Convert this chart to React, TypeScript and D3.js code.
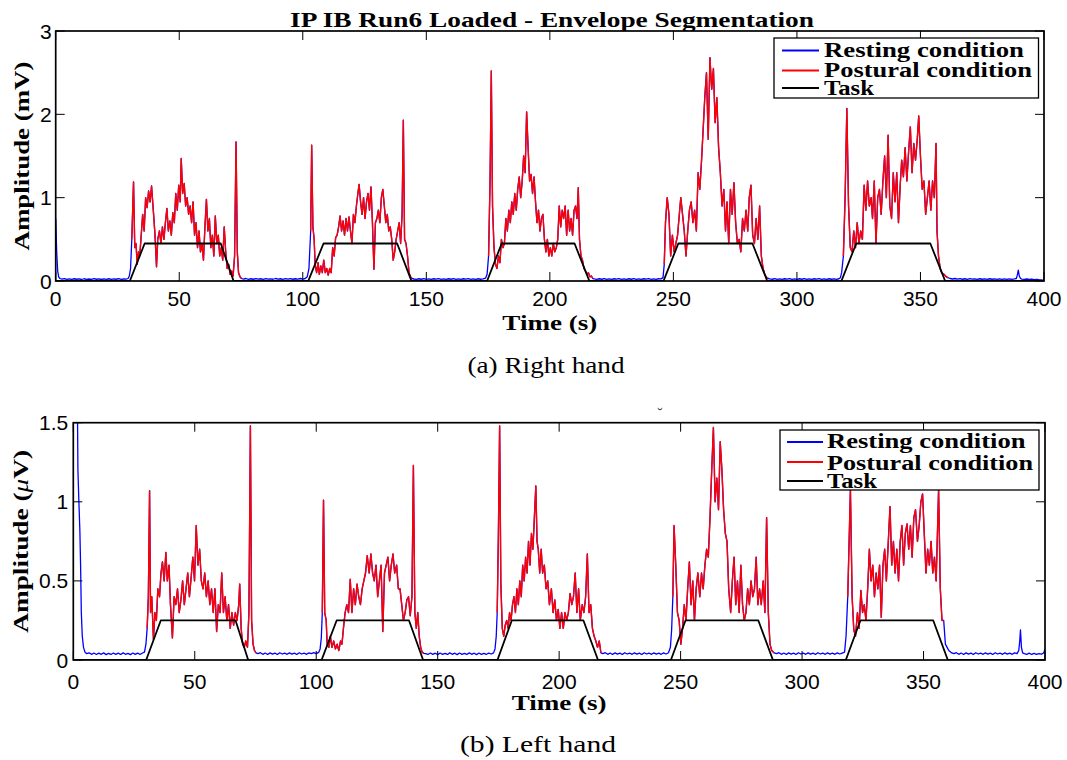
import React from "react";
import * as d3 from "d3";

// ---------------- DATA ----------------
const xTicks = [0, 50, 100, 150, 200, 250, 300, 350, 400];
const rightYTicks = [0, 1, 2, 3];
const leftYTicks = [0, 0.5, 1, 1.5];

const titleText = "IP IB Run6 Loaded - Envelope Segmentation";
const legendLabels = ["Resting condition", "Postural condition", "Task"];

// task trapezoid: breakpoints (s) and on/off state
const taskTimes = [0, 30, 36, 66.8, 72, 102.2, 108.4, 138.2, 144, 174.6, 180.5, 210, 216, 246, 252, 282, 288, 318, 324, 354, 360, 400];
const taskOnOff = [0, 0, 1, 1, 0, 0, 1, 1, 0, 0, 1, 1, 0, 0, 1, 1, 0, 0, 1, 1, 0, 0];
const rightTaskLevel = 0.45;
const leftTaskLevel = 0.25;

// postural condition windows (s)
const rightPosturalWindows: [number, number][] = [[30.5, 75.2], [103, 144.2], [175.2, 217.4], [246.3, 288.4], [318.5, 361.1]];
const leftPosturalWindows: [number, number][] = [[30.4, 75.2], [102.5, 144.3], [174.5, 217.2], [246.8, 288.5], [318.6, 358.3]];

// right hand envelope (t [s], amplitude [mV])
const rightEnvelope: [number, number][] = [
  [0, 0.75], [0.4, 0.35], [0.8, 0.12], [1.2, 0.05], [1.7, 0.03], [2.5, 0.022], [3.5, 0.028], [4.5, 0.02], [5.5, 0.026], [6.5, 0.019], [7.5, 0.027], [8.5, 0.021], [9.5, 0.025], [10.5, 0.018], [11.5, 0.027], [12.5, 0.02], [13.5, 0.024], [14.5, 0.019], [15.5, 0.028], [16.5, 0.021], [17.5, 0.025], [18.5, 0.018], [19.5, 0.026], [20.5, 0.02], [21.5, 0.027], [22.5, 0.019], [23.5, 0.025], [24.5, 0.021], [25.5, 0.028], [26.5, 0.02], [27.5, 0.024], [28.5, 0.022], [29.3, 0.03], [29.8, 0.06], [30.3, 0.15],
  [30.8, 0.5], [31.5, 1.19], [32, 0.4], [32.5, 0.45], [33, 0.2], [33.5, 0.35], [34, 0.3], [34.5, 0.5], [35.2, 0.8], [35.8, 0.6], [36.4, 1.0], [37, 0.88], [37.6, 1.08], [38.2, 0.95], [38.8, 1.14], [39.5, 0.85], [40.2, 0.55], [40.8, 0.17], [41.3, 0.5], [42, 0.6], [42.6, 0.45], [43.2, 0.65], [43.8, 0.5], [44.4, 0.7], [45, 0.87], [45.6, 0.6], [46.2, 0.72], [46.8, 0.55], [47.4, 0.82], [48, 0.7], [48.6, 1.05], [49.2, 0.85], [49.8, 1.15], [50.4, 0.95], [50.8, 1.47], [51.4, 1.05], [52, 1.17], [52.6, 0.9], [53.2, 1.0], [53.8, 0.8], [54.4, 0.9], [55, 0.7], [55.6, 0.95], [56.2, 0.55], [56.8, 0.7], [57.4, 0.4], [58, 0.6], [58.6, 0.35], [59.2, 0.45], [59.8, 0.25], [60.4, 0.65], [61, 0.98], [61.6, 0.6], [62.2, 0.75], [62.8, 0.4], [63.4, 0.55], [64, 0.3], [64.6, 0.78], [65.2, 0.45], [65.8, 0.55], [66.4, 0.3], [67, 0.4], [67.6, 0.25], [68.2, 0.65], [68.8, 0.35], [69.4, 0.15], [70, 0.2], [70.6, 0.08], [71.2, 0.12], [71.8, 0.06], [72.4, 0.3], [73, 1.67], [73.5, 0.35], [74, 0.1], [74.6, 0.05], [75.2, 0.03],
  [76, 0.022], [77, 0.03], [78, 0.02], [79, 0.027], [80, 0.021], [81, 0.029], [82, 0.022], [83, 0.027], [84, 0.02], [85, 0.029], [86, 0.022], [87, 0.026], [88, 0.021], [89, 0.03], [90, 0.023], [91, 0.027], [92, 0.02], [93, 0.028], [94, 0.022], [95, 0.029], [96, 0.021], [97, 0.027], [98, 0.023], [99, 0.03], [100, 0.022], [101, 0.03], [101.8, 0.05], [102.5, 0.15],
  [103.2, 0.6], [103.6, 1.63], [104.1, 0.65], [104.6, 0.5], [105, 0.2], [105.6, 0.1], [106.2, 0.22], [106.7, 0.08], [107.3, 0.18], [107.9, 0.1], [108.5, 0.25], [109.1, 0.1], [109.7, 0.15], [110.3, 0.07], [110.9, 0.15], [111.5, 0.1], [112.1, 0.4], [112.7, 0.3], [113.3, 0.52], [113.9, 0.55], [114.5, 0.65], [115.1, 0.78], [115.7, 0.6], [116.3, 0.72], [116.9, 0.55], [117.5, 0.75], [118.1, 0.6], [118.7, 0.77], [119.3, 0.6], [119.9, 0.45], [120.5, 0.8], [121.1, 0.7], [121.7, 0.9], [122.3, 1.05], [122.8, 1.16], [123.4, 0.95], [124, 0.8], [124.6, 1.0], [125.2, 0.75], [125.8, 0.95], [126.4, 1.05], [127, 0.85], [127.6, 1.13], [128.2, 0.7], [128.8, 0.14], [129.4, 0.7], [130, 0.75], [130.6, 0.85], [131.2, 0.7], [131.8, 1.0], [132.4, 1.1], [133, 0.9], [133.6, 0.7], [134.2, 0.8], [134.8, 0.6], [135.4, 0.65], [136, 0.5], [136.6, 0.25], [137.2, 0.35], [137.8, 0.5], [138.4, 0.6], [139, 0.7], [139.6, 0.45], [140.2, 0.8], [140.7, 1.93], [141.2, 0.5], [141.8, 0.45], [142.4, 0.3], [143, 0.1], [143.6, 0.05], [144.2, 0.03],
  [145, 0.024], [146, 0.02], [147, 0.027], [148, 0.021], [149, 0.028], [150, 0.02], [151, 0.026], [152, 0.019], [153, 0.027], [154, 0.022], [155, 0.028], [156, 0.02], [157, 0.025], [158, 0.019], [159, 0.027], [160, 0.021], [161, 0.028], [162, 0.02], [163, 0.026], [164, 0.019], [165, 0.027], [166, 0.022], [167, 0.028], [168, 0.02], [169, 0.025], [170, 0.019], [171, 0.027], [172, 0.021], [173, 0.025], [174, 0.035], [174.6, 0.08],
  [175.2, 0.3], [175.8, 1.2], [176.3, 2.52], [176.8, 0.9], [177.4, 0.4], [178, 0.2], [178.6, 0.15], [179.2, 0.3], [179.8, 0.22], [180.4, 0.5], [181, 0.4], [181.6, 0.45], [182.2, 0.75], [182.8, 0.6], [183.4, 0.85], [184, 0.7], [184.6, 0.95], [185.2, 0.8], [185.8, 1.05], [186.4, 0.85], [187, 1.1], [187.6, 1.25], [188.2, 1.0], [188.8, 1.2], [189.4, 1.5], [190, 1.3], [190.6, 2.03], [191.2, 1.6], [191.8, 1.2], [192.4, 1.28], [193, 1.05], [193.6, 1.25], [194.2, 0.95], [194.8, 0.7], [195.4, 0.85], [196, 0.6], [196.6, 0.75], [197.2, 0.8], [197.8, 0.5], [198.4, 0.35], [199, 0.5], [199.6, 0.3], [200.2, 0.4], [200.8, 0.3], [201.4, 0.45], [202, 0.35], [202.6, 0.4], [203.2, 0.5], [203.8, 0.9], [204.4, 0.65], [205, 0.85], [205.6, 0.75], [206.2, 0.9], [206.8, 0.55], [207.4, 0.85], [208, 0.6], [208.6, 0.75], [209.2, 0.55], [209.8, 0.85], [210.4, 0.9], [211, 0.75], [211.5, 1.12], [212, 0.5], [212.6, 0.3], [213.2, 0.25], [213.8, 0.15], [214.4, 0.12], [215, 0.08], [215.6, 0.1], [216.2, 0.05], [216.8, 0.06], [217.4, 0.03],
  [218, 0.025], [219, 0.02], [220, 0.027], [221, 0.021], [222, 0.028], [223, 0.02], [224, 0.026], [225, 0.019], [226, 0.027], [227, 0.022], [228, 0.028], [229, 0.02], [230, 0.025], [231, 0.019], [232, 0.027], [233, 0.021], [234, 0.028], [235, 0.02], [236, 0.026], [237, 0.019], [238, 0.027], [239, 0.022], [240, 0.028], [241, 0.02], [242, 0.025], [243, 0.019], [244, 0.027], [245, 0.025], [245.8, 0.04],
  [246.3, 0.2], [246.8, 0.7], [247.5, 1.0], [248.2, 0.8], [248.9, 0.3], [249.6, 0.55], [250.3, 0.35], [251, 0.45], [251.7, 0.55], [252.4, 0.8], [253, 1.0], [253.7, 0.8], [254.4, 0.6], [255.1, 0.3], [255.8, 0.6], [256.5, 0.85], [257.2, 0.95], [257.9, 0.7], [258.6, 0.85], [259.3, 0.6], [260, 1.3], [260.7, 1.1], [261.4, 1.45], [262.1, 1.85], [262.7, 2.2], [263.4, 2.5], [264.1, 1.7], [264.8, 2.68], [265.5, 2.3], [266.2, 2.55], [266.9, 1.9], [267.6, 2.2], [268.3, 1.6], [269, 1.3], [269.7, 0.9], [270.4, 1.1], [271.1, 0.6], [271.7, 0.95], [272.4, 0.45], [273.1, 1.1], [273.8, 0.8], [274.5, 1.18], [275.2, 0.7], [275.9, 0.45], [276.6, 0.5], [277.3, 0.35], [278, 0.75], [278.7, 0.6], [279.4, 0.85], [280.1, 0.6], [280.7, 1.0], [281.4, 1.15], [282.1, 0.55], [282.8, 0.45], [283.5, 0.75], [284.2, 0.5], [284.9, 0.9], [285.6, 0.3], [286.3, 0.15], [287, 0.08], [287.7, 0.04], [288.4, 0.03],
  [289, 0.025], [290, 0.021], [291, 0.028], [292, 0.02], [293, 0.026], [294, 0.019], [295, 0.027], [296, 0.022], [297, 0.028], [298, 0.02], [299, 0.025], [300, 0.019], [301, 0.027], [302, 0.021], [303, 0.028], [304, 0.02], [305, 0.026], [306, 0.019], [307, 0.027], [308, 0.022], [309, 0.028], [310, 0.02], [311, 0.025], [312, 0.019], [313, 0.027], [314, 0.021], [315, 0.026], [316, 0.02], [317, 0.027], [317.6, 0.04], [318.1, 0.1],
  [318.8, 0.3], [319.5, 1.0], [320.2, 2.07], [320.9, 0.9], [321.6, 0.4], [322.3, 0.35], [323, 0.6], [323.7, 0.4], [324.4, 0.7], [325.1, 0.45], [325.8, 0.6], [326.5, 0.5], [327.2, 1.15], [327.9, 0.85], [328.6, 1.2], [329.3, 0.9], [330, 1.0], [330.6, 0.75], [331.3, 1.2], [332, 0.45], [332.7, 1.0], [333.4, 1.1], [334.1, 0.8], [334.8, 1.2], [335.5, 1.5], [336.2, 1.0], [336.9, 1.75], [337.6, 0.9], [338.3, 0.75], [339, 1.3], [339.7, 0.95], [340.4, 1.3], [341.1, 0.7], [341.8, 1.15], [342.4, 1.45], [343.1, 1.25], [343.8, 1.6], [344.5, 1.2], [345.2, 1.55], [345.9, 1.85], [346.6, 1.3], [347.3, 1.65], [348, 1.45], [348.7, 1.7], [349.3, 1.98], [350, 1.5], [350.7, 1.1], [351.4, 1.2], [352.1, 0.8], [352.8, 1.0], [353.5, 1.2], [354.2, 0.85], [354.9, 1.2], [355.6, 1.0], [356.3, 1.65], [356.7, 0.6], [357.3, 0.3], [358, 0.15], [358.6, 0.1], [359.5, 0.08], [360.5, 0.05], [361.1, 0.04],
  [362, 0.03], [363, 0.024], [364, 0.03], [365, 0.022], [366, 0.028], [367, 0.021], [368, 0.027], [369, 0.02], [370, 0.028], [371, 0.022], [372, 0.026], [373, 0.02], [374, 0.027], [375, 0.021], [376, 0.026], [377, 0.019], [378, 0.027], [379, 0.021], [380, 0.025], [381, 0.02], [382, 0.026], [383, 0.019], [384, 0.025], [385, 0.02], [386, 0.026], [387, 0.02], [388, 0.025], [388.8, 0.03], [389.2, 0.07], [389.6, 0.13], [390, 0.06], [390.5, 0.03], [391, 0.022], [392, 0.02], [393, 0.024], [394, 0.018], [395, 0.022], [396, 0.016], [397, 0.02], [398, 0.015], [399, 0.014], [399.5, 0.01], [400, 0.006],
];

// left hand envelope (t [s], amplitude [µV])
const leftEnvelope: [number, number][] = [
  [0, 2.5], [1.5, 1.9], [1.7, 1.6], [1.9, 1.2], [2.3, 1.0], [2.7, 0.82], [3.0, 0.6], [3.3, 0.3], [3.7, 0.15], [4.2, 0.08], [4.8, 0.05], [5.5, 0.04], [6.5, 0.045], [7.5, 0.036], [8.5, 0.044], [9.5, 0.035], [10.5, 0.043], [11.5, 0.036], [12.5, 0.045], [13.5, 0.034], [14.5, 0.042], [15.5, 0.035], [16.5, 0.044], [17.5, 0.036], [18.5, 0.043], [19.5, 0.035], [20.5, 0.045], [21.5, 0.036], [22.5, 0.042], [23.5, 0.034], [24.5, 0.044], [25.5, 0.036], [26.5, 0.043], [27.5, 0.035], [28.5, 0.044], [29.3, 0.05], [29.9, 0.1],
  [30.4, 0.2], [30.9, 0.4], [31.4, 1.07], [31.8, 0.3], [32.3, 0.4], [33, 0.13], [33.6, 0.3], [34.2, 0.25], [34.8, 0.45], [35.5, 0.4], [36.1, 0.55], [36.7, 0.62], [37.4, 0.5], [38.1, 0.68], [38.7, 0.5], [39.4, 0.6], [40, 0.35], [40.8, 0.14], [41.5, 0.4], [42.2, 0.35], [42.9, 0.45], [43.6, 0.3], [44.3, 0.38], [45, 0.5], [45.7, 0.35], [46.4, 0.45], [47.1, 0.55], [47.8, 0.4], [48.5, 0.52], [49.2, 0.65], [49.9, 0.5], [50.6, 0.85], [51.3, 0.6], [52, 0.7], [52.7, 0.5], [53.4, 0.45], [54.1, 0.55], [54.8, 0.4], [55.5, 0.5], [56.2, 0.35], [56.9, 0.45], [57.6, 0.3], [58.3, 0.45], [59, 0.18], [59.7, 0.35], [60.4, 0.3], [61.1, 0.55], [61.8, 0.3], [62.5, 0.4], [63.2, 0.25], [63.9, 0.35], [64.6, 0.2], [65.3, 0.3], [66, 0.22], [66.7, 0.3], [67.4, 0.25], [68.1, 0.35], [68.5, 0.48], [69.1, 0.2], [69.7, 0.1], [70.4, 0.08], [71, 0.12], [71.7, 0.08], [72.3, 0.3], [72.9, 1.48], [73.4, 0.25], [74, 0.1], [74.6, 0.06], [75.2, 0.045],
  [76, 0.04], [77, 0.046], [78, 0.036], [79, 0.044], [80, 0.035], [81, 0.045], [82, 0.037], [83, 0.043], [84, 0.035], [85, 0.046], [86, 0.038], [87, 0.044], [88, 0.036], [89, 0.045], [90, 0.037], [91, 0.043], [92, 0.035], [93, 0.046], [94, 0.038], [95, 0.044], [96, 0.036], [97, 0.045], [98, 0.04], [99, 0.046], [100, 0.04], [101, 0.048], [101.6, 0.07], [102.1, 0.14],
  [102.5, 0.3], [103, 1.01], [103.5, 0.3], [104.1, 0.25], [104.5, 0.1], [105.2, 0.08], [105.8, 0.15], [106.5, 0.08], [107.2, 0.12], [107.9, 0.07], [108.6, 0.1], [109.3, 0.06], [110, 0.12], [110.6, 0.1], [111.2, 0.2], [111.9, 0.3], [112.6, 0.35], [113.3, 0.3], [114, 0.51], [114.7, 0.3], [115.4, 0.45], [116.1, 0.35], [116.8, 0.48], [117.5, 0.4], [118.2, 0.35], [118.9, 0.45], [119.6, 0.5], [120.3, 0.55], [121, 0.66], [121.8, 0.55], [122.5, 0.67], [123.2, 0.55], [123.9, 0.5], [124.6, 0.6], [125.3, 0.4], [126, 0.5], [126.7, 0.6], [127.4, 0.18], [128.1, 0.55], [128.8, 0.6], [129.5, 0.65], [130.2, 0.5], [130.9, 0.6], [131.6, 0.67], [132.3, 0.55], [133.1, 0.6], [133.8, 0.45], [134.5, 0.45], [135.2, 0.35], [135.9, 0.25], [136.6, 0.3], [137.3, 0.38], [138, 0.4], [138.7, 0.28], [139.4, 0.4], [140, 1.23], [140.6, 0.3], [141.2, 0.2], [141.8, 0.3], [142.4, 0.15], [143, 0.08], [143.6, 0.05], [144.3, 0.042],
  [145, 0.04], [146, 0.035], [147, 0.044], [148, 0.036], [149, 0.043], [150, 0.034], [151, 0.044], [152, 0.036], [153, 0.042], [154, 0.035], [155, 0.045], [156, 0.036], [157, 0.043], [158, 0.034], [159, 0.044], [160, 0.036], [161, 0.042], [162, 0.035], [163, 0.045], [164, 0.036], [165, 0.043], [166, 0.034], [167, 0.044], [168, 0.036], [169, 0.042], [170, 0.035], [171, 0.044], [172, 0.038], [173, 0.045], [173.6, 0.07], [174.1, 0.15],
  [174.5, 0.3], [175, 0.8], [175.5, 1.48], [176, 0.48], [176.6, 0.2], [177.2, 0.15], [177.8, 0.22], [178.4, 0.25], [179, 0.2], [179.6, 0.3], [180.2, 0.25], [180.8, 0.35], [181.4, 0.4], [182, 0.3], [182.6, 0.45], [183.2, 0.35], [183.8, 0.5], [184.4, 0.4], [185, 0.6], [185.6, 0.5], [186.2, 0.65], [186.8, 0.55], [187.4, 0.75], [188, 0.6], [188.6, 0.8], [189.2, 0.7], [189.8, 0.9], [190.4, 1.1], [190.9, 0.75], [191.4, 0.7], [192, 0.55], [192.6, 0.7], [193.2, 0.55], [193.9, 0.6], [194.6, 0.45], [195.3, 0.5], [196, 0.35], [196.8, 0.45], [197.5, 0.3], [198.2, 0.38], [198.9, 0.25], [199.6, 0.32], [200.3, 0.2], [201, 0.3], [201.7, 0.2], [202.4, 0.3], [203.1, 0.25], [203.8, 0.3], [204.5, 0.42], [205.2, 0.35], [205.9, 0.4], [206.6, 0.55], [207.3, 0.3], [208, 0.45], [208.7, 0.25], [209.5, 0.35], [210.2, 0.3], [210.9, 0.4], [211.6, 0.67], [212.3, 0.3], [213, 0.35], [213.7, 0.2], [214.4, 0.15], [215.1, 0.12], [215.8, 0.08], [216.5, 0.12], [217.2, 0.045],
  [218, 0.04], [219, 0.046], [220, 0.036], [221, 0.044], [222, 0.035], [223, 0.045], [224, 0.037], [225, 0.043], [226, 0.035], [227, 0.046], [228, 0.038], [229, 0.044], [230, 0.036], [231, 0.045], [232, 0.037], [233, 0.043], [234, 0.035], [235, 0.046], [236, 0.038], [237, 0.044], [238, 0.036], [239, 0.045], [240, 0.037], [241, 0.043], [242, 0.036], [243, 0.045], [244, 0.038], [245, 0.046], [245.8, 0.08], [246.3, 0.19],
  [246.8, 0.4], [247.3, 0.85], [248, 0.6], [248.7, 0.3], [249.4, 0.25], [250.1, 0.1], [250.8, 0.2], [251.5, 0.35], [252.2, 0.25], [252.9, 0.45], [253.6, 0.62], [254.3, 0.35], [255, 0.5], [255.7, 0.25], [256.4, 0.45], [257.1, 0.55], [257.9, 0.4], [258.6, 0.55], [259.3, 0.45], [260, 0.6], [260.7, 0.7], [261.4, 0.65], [262.1, 0.9], [262.8, 1.2], [263.5, 1.47], [264.2, 1.0], [264.9, 1.15], [265.6, 0.95], [266.3, 1.38], [267, 1.2], [267.7, 0.95], [268.4, 0.8], [269.1, 0.75], [269.8, 0.45], [270.6, 0.3], [271.3, 0.5], [272, 0.65], [272.7, 0.35], [273.4, 0.5], [274.1, 0.3], [274.8, 0.6], [275.5, 0.35], [276.2, 0.25], [276.9, 0.3], [277.6, 0.45], [278.3, 0.35], [279, 0.5], [279.7, 0.4], [280.4, 0.45], [281.1, 0.65], [281.8, 0.35], [282.5, 0.45], [283.2, 0.35], [284, 0.5], [284.7, 0.3], [285.4, 0.9], [286.1, 0.3], [286.8, 0.1], [287.5, 0.06], [288.5, 0.045],
  [289.5, 0.04], [290.5, 0.046], [291.5, 0.036], [292.5, 0.044], [293.5, 0.035], [294.5, 0.045], [295.5, 0.037], [296.5, 0.043], [297.5, 0.035], [298.5, 0.046], [299.5, 0.038], [300.5, 0.044], [301.5, 0.036], [302.5, 0.045], [303.5, 0.037], [304.5, 0.043], [305.5, 0.035], [306.5, 0.046], [307.5, 0.038], [308.5, 0.044], [309.5, 0.036], [310.5, 0.045], [311.5, 0.037], [312.5, 0.043], [313.5, 0.036], [314.5, 0.045], [315.5, 0.038], [316.5, 0.044], [317.5, 0.05], [318.1, 0.15],
  [318.8, 0.4], [319.9, 1.08], [320.6, 0.4], [321.3, 0.19], [322, 0.15], [322.8, 0.3], [323.5, 0.2], [324.2, 0.44], [324.9, 0.3], [325.6, 0.35], [326.3, 0.25], [327, 0.45], [327.7, 0.7], [328.4, 0.5], [329.1, 0.6], [329.8, 0.4], [330.5, 0.55], [331.2, 0.45], [331.9, 0.6], [332.6, 0.27], [333.3, 0.6], [334, 0.7], [334.7, 0.5], [335.5, 0.75], [336.2, 0.97], [336.9, 0.6], [337.6, 0.75], [338.3, 0.55], [339, 0.7], [339.7, 0.5], [340.4, 0.75], [341.1, 0.85], [341.8, 0.6], [342.5, 0.8], [343.2, 0.86], [343.9, 0.7], [344.6, 0.85], [345.3, 0.65], [346, 0.9], [346.7, 0.95], [347.5, 0.75], [348.2, 0.85], [348.9, 1.0], [349.6, 1.05], [350.3, 0.8], [351, 0.55], [351.7, 0.7], [352.4, 0.6], [353.1, 0.75], [353.8, 0.55], [354.5, 0.65], [355.2, 0.5], [356.2, 1.08], [356.9, 0.45], [357.6, 0.25], [358.3, 0.25], [359, 0.1], [359.7, 0.08], [360.4, 0.06], [361.6, 0.045],
  [362.5, 0.04], [363.5, 0.046], [364.5, 0.036], [365.5, 0.044], [366.5, 0.035], [367.5, 0.045], [368.5, 0.037], [369.5, 0.043], [370.5, 0.035], [371.5, 0.046], [372.5, 0.038], [373.5, 0.044], [374.5, 0.036], [375.5, 0.045], [376.5, 0.037], [377.5, 0.043], [378.5, 0.035], [379.5, 0.046], [380.5, 0.038], [381.5, 0.044], [382.5, 0.036], [383.5, 0.045], [384.5, 0.037], [385.5, 0.043], [386.5, 0.036], [387.5, 0.045], [388.5, 0.04], [389.2, 0.06], [389.6, 0.12], [389.9, 0.19], [390.3, 0.08], [390.8, 0.045], [391.5, 0.04], [392.5, 0.036], [393.5, 0.043], [394.5, 0.035], [395.5, 0.042], [396.5, 0.036], [397.5, 0.041], [398.5, 0.037], [399.2, 0.042], [399.6, 0.05], [400, 0.07],
];

// ---------------- COMPONENTS ----------------
const SERIF = "'Liberation Serif', 'Times New Roman', serif";
const SANS = "'Liberation Sans', Arial, Helvetica, sans-serif";

type Box = { l: number; r: number; t: number; b: number };

interface PanelProps {
  id: string;
  box: Box;
  yMax: number;
  yTicks: number[];
  data: [number, number][];
  windows: [number, number][];
  taskLevel: number;
  yLabel: React.ReactNode;
  yLabelLen: number;
  yLabelX: number;
  xLabelY: number;
  xLabelLen: number;
  tickLabelY: number;
  yTickGap: number;
  caption: string;
  captionX: number;
  captionY: number;
  captionLen: number;
  legend: { l: number; r: number; t: number; b: number; lineX0: number; lineX1: number; textX: number; lineYs: number[]; baseYs: number[]; lens: number[] };
}

function Panel(p: PanelProps) {
  const { box } = p;
  const x = d3.scaleLinear().domain([0, 400]).range([box.l, box.r]);
  const y = d3.scaleLinear().domain([0, p.yMax]).range([box.b, box.t]);
  const line = d3
    .line<[number, number]>()
    .x((d) => x(d[0]))
    .y((d) => y(d[1]));
  const bluePath = line(p.data) || "";
  const redPaths = p.windows.map((w) => line(p.data.filter((d) => d[0] >= w[0] && d[0] <= w[1])) || "");
  const task: [number, number][] = taskTimes.map((t, i) => [t, taskOnOff[i] * p.taskLevel]);
  const taskPath = line(task) || "";
  const tickLen = 9;
  const fmt = (v: number) => String(v);
  const lg = p.legend;
  const colors = ["#0000ff", "#ff0000", "#000000"];
  const cx = (box.l + box.r) / 2;
  const cy = (box.t + box.b) / 2;

  return (
    <g>
      <defs>
        <clipPath id={`clip-${p.id}`}>
          <rect x={box.l} y={box.t} width={box.r - box.l} height={box.b - box.t} />
        </clipPath>
      </defs>
      <rect x={box.l} y={box.t} width={box.r - box.l} height={box.b - box.t} fill="#fff" />
      <g clipPath={`url(#clip-${p.id})`} fill="none" strokeLinejoin="round">
        <path d={bluePath} stroke="#0000ff" strokeWidth={1.3} />
        {redPaths.map((d, i) => (
          <path key={i} d={d} stroke="#ff0000" strokeWidth={1.4} />
        ))}
        <path d={taskPath} stroke="#000" strokeWidth={1.8} />
      </g>
      {/* ticks */}
      <g stroke="#000" strokeWidth={1}>
        {xTicks.map((t) => (
          <g key={`xt${t}`}>
            <line x1={x(t)} x2={x(t)} y1={box.b} y2={box.b - tickLen} />
            <line x1={x(t)} x2={x(t)} y1={box.t} y2={box.t + tickLen} />
          </g>
        ))}
        {p.yTicks.map((t) => (
          <g key={`yt${t}`}>
            <line x1={box.l} x2={box.l + tickLen} y1={y(t)} y2={y(t)} />
            <line x1={box.r} x2={box.r - tickLen} y1={y(t)} y2={y(t)} />
          </g>
        ))}
      </g>
      <rect x={box.l} y={box.t} width={box.r - box.l} height={box.b - box.t} fill="none" stroke="#000" strokeWidth={1.7} />
      {/* tick labels */}
      <g fontFamily={SANS} fontSize={21} fill="#000">
        {xTicks.map((t) => (
          <text key={`xl${t}`} x={x(t)} y={p.tickLabelY} textAnchor="middle">
            {fmt(t)}
          </text>
        ))}
        {p.yTicks.map((t) => (
          <text key={`yl${t}`} x={box.l - p.yTickGap} y={y(t) + 7.5} textAnchor="end">
            {fmt(t)}
          </text>
        ))}
      </g>
      {/* axis labels */}
      <text x={cx} y={p.xLabelY} textAnchor="middle" fontFamily={SERIF} fontWeight="bold" fontSize={21} textLength={p.xLabelLen} lengthAdjust="spacingAndGlyphs">
        Time (s)
      </text>
      <text transform={`translate(${p.yLabelX},${cy}) rotate(-90)`} textAnchor="middle" fontFamily={SERIF} fontWeight="bold" fontSize={22} textLength={p.yLabelLen} lengthAdjust="spacingAndGlyphs">
        {p.yLabel}
      </text>
      {/* legend */}
      <rect x={lg.l} y={lg.t} width={lg.r - lg.l} height={lg.b - lg.t} fill="#fff" stroke="#000" strokeWidth={1.3} />
      {legendLabels.map((label, i) => (
        <g key={label}>
          <line x1={lg.lineX0} x2={lg.lineX1} y1={lg.lineYs[i]} y2={lg.lineYs[i]} stroke={colors[i]} strokeWidth={2} />
          <text x={lg.textX} y={lg.baseYs[i]} fontFamily={SERIF} fontWeight="bold" fontSize={20} textLength={lg.lens[i]} lengthAdjust="spacingAndGlyphs">
            {label}
          </text>
        </g>
      ))}
      {/* caption */}
      <text x={p.captionX} y={p.captionY} textAnchor="middle" fontFamily={SERIF} fontSize={24} textLength={p.captionLen} lengthAdjust="spacingAndGlyphs">
        {p.caption}
      </text>
    </g>
  );
}

export default function App() {
  return (
    <svg width={1067} height={760} style={{ position: "absolute", left: 0, top: 0, background: "#fff" }}>
      <rect x={0} y={0} width={1067} height={760} fill="#fff" />
      <text x={552} y={27} textAnchor="middle" fontFamily={SERIF} fontWeight="bold" fontSize={22} textLength={524} lengthAdjust="spacingAndGlyphs">
        {titleText}
      </text>
      <Panel
        id="right"
        box={{ l: 55.7, r: 1044, t: 31, b: 281 }}
        yMax={3}
        yTicks={rightYTicks}
        data={rightEnvelope}
        windows={rightPosturalWindows}
        taskLevel={rightTaskLevel}
        yLabel="Amplitude (mV)"
        yLabelLen={189}
        yLabelX={28.5}
        xLabelY={330}
        xLabelLen={95}
        tickLabelY={306}
        yTickGap={4}
        caption="(a) Right hand"
        captionX={546}
        captionY={373}
        captionLen={157}
        legend={{ l: 774, r: 1038.5, t: 38, b: 98, lineX0: 782, lineX1: 819, textX: 824, lineYs: [50.4, 70.6, 88], baseYs: [56.5, 77, 95], lens: [200, 208, 50] }}
      />
      <text x={660} y={419} textAnchor="middle" fontFamily={SERIF} fontSize={16} fill="#444">
        ˘
      </text>
      <Panel
        id="left"
        box={{ l: 73.3, r: 1045, t: 422.7, b: 660 }}
        yMax={1.5}
        yTicks={leftYTicks}
        data={leftEnvelope}
        windows={leftPosturalWindows}
        taskLevel={leftTaskLevel}
        yLabel={
          <>
            Amplitude (<tspan fontStyle="italic" fontWeight="normal">μ</tspan>V)
          </>
        }
        yLabelLen={183}
        yLabelX={28}
        xLabelY={710}
        xLabelLen={95}
        tickLabelY={689}
        yTickGap={5}
        caption="(b) Left hand"
        captionX={538}
        captionY={752}
        captionLen={156}
        legend={{ l: 780, r: 1039, t: 430, b: 490, lineX0: 787, lineX1: 823, textX: 827, lineYs: [442, 462, 481], baseYs: [448, 469.5, 487.6], lens: [198.5, 206, 50] }}
      />
    </svg>
  );
}
